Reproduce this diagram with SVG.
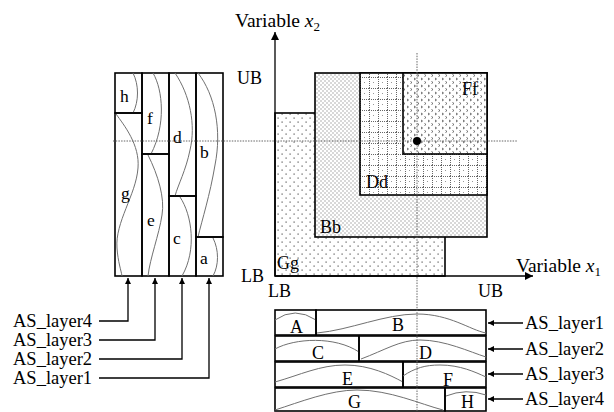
<svg xmlns="http://www.w3.org/2000/svg" width="614" height="412" viewBox="0 0 614 412">
<style>
text{font-family:"Liberation Serif","Times New Roman",serif;font-size:18px;fill:#000}
.lbl{font-size:17.5px}
.var{font-size:19.5px}
.lay{font-size:18.5px}
.box{fill:none;stroke:#000;stroke-width:1.6}
.wave{fill:none;stroke:#707070;stroke-width:1}
.guide{fill:none;stroke:#666;stroke-width:1;stroke-dasharray:1.5 1.2}
.conn{fill:none;stroke:#000;stroke-width:1.3}
.it{font-style:italic}
.sub{font-size:13px}
</style>
<defs>
<marker id="ah" viewBox="0 0 10 10" refX="10" refY="5" markerWidth="6" markerHeight="6" markerUnits="userSpaceOnUse" orient="auto">
<path d="M0,0 L10,5 L0,10 z" fill="#000"/>
</marker>
<marker id="ah2" viewBox="0 0 10 10" refX="10" refY="5" markerWidth="8" markerHeight="8" markerUnits="userSpaceOnUse" orient="auto">
<path d="M0,0 L10,5 L0,10 z" fill="#000"/>
</marker>
<pattern id="pG" width="8" height="8" patternUnits="userSpaceOnUse">
<rect width="8" height="8" fill="#fff"/>
<rect x="1.5" y="1.5" width="1.2" height="1.2" fill="#555"/>
<rect x="5.5" y="5.5" width="1.2" height="1.2" fill="#555"/>
</pattern>
<pattern id="pB" width="4" height="4" patternUnits="userSpaceOnUse">
<rect width="4" height="4" fill="#fff"/>
<rect x="0.5" y="0.5" width="1" height="1" fill="#666"/>
<rect x="2.5" y="2.5" width="1" height="1" fill="#666"/>
</pattern>
<pattern id="pD" width="9" height="11" patternUnits="userSpaceOnUse">
<rect width="9" height="11" fill="#fff"/>
<rect x="4" y="5" width="1" height="1" fill="#999"/>
<path d="M0.5,0 V11 M0,0.5 H9" stroke="#666" stroke-width="1" stroke-dasharray="1 1"/>
</pattern>
<pattern id="pF" width="7" height="7" patternUnits="userSpaceOnUse">
<rect width="7" height="7" fill="#fff"/>
<path d="M1,1 L2.5,2 L1,3" stroke="#666" stroke-width="1" fill="none"/>
<path d="M4.5,4.5 L6,5.5 L4.5,6.5" stroke="#666" stroke-width="1" fill="none"/>
</pattern>
</defs>
<rect width="614" height="412" fill="#fff"/>

<!-- Left panel: layers as columns -->
<g id="left-panel">
<g id="cell-h"><rect class="box" x="115" y="73" width="27" height="40"/><path class="wave" d="M133,73 C139,85 139,101 133,113"/><text class="lbl" x="120" y="102">h</text></g>
<g id="cell-g"><rect class="box" x="115" y="113" width="27" height="163"/><path class="wave" d="M116,114 C124,125 140,145 138,168 C136,195 115,222 117,248 C118,262 121,270 122,276"/><text class="lbl" x="121" y="199">g</text></g>
<g id="cell-f"><rect class="box" x="142" y="73" width="27" height="81"/><path class="wave" d="M153,73 C163,90 166,125 151,154"/><text class="lbl" x="147" y="124">f</text></g>
<g id="cell-e"><rect class="box" x="142" y="154" width="27" height="122"/><path class="wave" d="M148,155 C158,175 165,198 162,215 C159,235 150,258 148,276"/><text class="lbl" x="147" y="226">e</text></g>
<g id="cell-d"><rect class="box" x="169" y="73" width="27" height="123"/><path class="wave" d="M175,73 C190,95 196,125 190,150 C186,170 178,185 175,196"/><text class="lbl" x="173" y="143">d</text></g>
<g id="cell-c"><rect class="box" x="169" y="196" width="27" height="80"/><path class="wave" d="M180,197 C192,215 197,250 182,276"/><text class="lbl" x="173" y="244">c</text></g>
<g id="cell-b"><rect class="box" x="196" y="73" width="27" height="164"/><path class="wave" d="M198,73 C215,95 222,130 215,165 C210,195 202,220 198,237"/><text class="lbl" x="200" y="158">b</text></g>
<g id="cell-a"><rect class="box" x="196" y="237" width="27" height="39"/><path class="wave" d="M213,238 C219,250 219,265 213,276"/><text class="lbl" x="200" y="264">a</text></g>
</g>

<!-- Right chart regions -->
<g id="region-Gg"><rect x="275" y="113" width="170" height="163" fill="url(#pG)" stroke="#000" stroke-width="1.6"/><text x="277" y="269">Gg</text></g>
<g id="region-Bb"><rect x="315" y="73" width="172" height="164" fill="url(#pB)" stroke="#000" stroke-width="1.6"/><text x="320" y="233">Bb</text></g>
<g id="region-Dd"><rect x="360" y="73" width="127" height="122" fill="url(#pD)" stroke="#000" stroke-width="1.6"/><text x="366" y="188">Dd</text></g>
<g id="region-Ff"><rect x="403" y="73" width="84" height="81" fill="url(#pF)" stroke="#000" stroke-width="1.6"/><text x="462" y="95">Ff</text></g>

<!-- Bottom panel: layers as rows -->
<g id="bottom-panel">
<g id="cell-A"><rect class="box" x="275" y="310" width="41" height="25"/><path class="wave" d="M275,320 Q295,306 316,320"/><text x="290" y="333">A</text></g>
<g id="cell-B"><rect class="box" x="316" y="310" width="170" height="25"/><path class="wave" d="M317,333 C350,330 385,314 417,314 C450,314 470,330 486,333"/><text x="392" y="331">B</text></g>
<g id="cell-C"><rect class="box" x="275" y="336" width="84" height="25"/><path class="wave" d="M275,349 C295,338 335,336 359,352"/><text x="312" y="359">C</text></g>
<g id="cell-D"><rect class="box" x="359" y="336" width="127" height="25"/><path class="wave" d="M361,359 C385,350 400,340 420,340 C445,340 470,352 486,357"/><text x="419" y="359">D</text></g>
<g id="cell-E"><rect class="box" x="275" y="362" width="128" height="25"/><path class="wave" d="M275,382 C300,375 320,365 345,365 C370,365 390,375 403,382"/><text x="342" y="385">E</text></g>
<g id="cell-F"><rect class="box" x="403" y="362" width="83" height="25"/><path class="wave" d="M403,376 C415,368 425,365 440,365 C460,365 475,372 486,377"/><text x="443" y="386">F</text></g>
<g id="cell-G"><rect class="box" x="275" y="388" width="170" height="23"/><path class="wave" d="M275,410 C300,402 330,390 357,390 C390,390 420,404 443,410"/><text x="348" y="408">G</text></g>
<g id="cell-H"><rect class="box" x="445" y="388" width="41" height="23"/><path class="wave" d="M446,396 Q466,388 486,395"/><text x="461" y="408">H</text></g>
</g>

<!-- Guide lines and point -->
<g id="guides">
<line class="guide" x1="113" y1="141" x2="518" y2="141"/>
<line class="guide" x1="417" y1="53" x2="417" y2="412"/>
<circle cx="417" cy="141" r="4" fill="#000"/>
</g>

<!-- Axes -->
<g id="axes">
<line class="conn" x1="275" y1="276" x2="275" y2="32" marker-end="url(#ah2)"/>
<line class="conn" x1="275" y1="276" x2="533" y2="276" marker-end="url(#ah2)"/>
<text class="var" x="235" y="27">Variable <tspan class="it">x</tspan><tspan class="sub" dy="4">2</tspan></text>
<text class="var" x="516" y="272">Variable <tspan class="it">x</tspan><tspan class="sub" dy="4">1</tspan></text>
<text x="237" y="84">UB</text>
<text x="241" y="282">LB</text>
<text x="268" y="297">LB</text>
<text x="478" y="297">UB</text>
</g>

<!-- Connectors -->
<g id="connectors">
<polyline class="conn" points="99,321 128,321 128,278" marker-end="url(#ah)"/>
<polyline class="conn" points="99,340 155,340 155,278" marker-end="url(#ah)"/>
<polyline class="conn" points="99,359 182,359 182,278" marker-end="url(#ah)"/>
<polyline class="conn" points="99,378 209,378 209,278" marker-end="url(#ah)"/>
<line class="conn" x1="523" y1="323" x2="488" y2="323" marker-end="url(#ah)"/>
<line class="conn" x1="523" y1="349" x2="488" y2="349" marker-end="url(#ah)"/>
<line class="conn" x1="523" y1="374" x2="488" y2="374" marker-end="url(#ah)"/>
<line class="conn" x1="523" y1="399" x2="488" y2="399" marker-end="url(#ah)"/>
</g>

<!-- Layer labels -->
<g id="layer-labels">
<text class="lay" x="13" y="327">AS_layer4</text>
<text class="lay" x="13" y="346">AS_layer3</text>
<text class="lay" x="13" y="365">AS_layer2</text>
<text class="lay" x="13" y="384">AS_layer1</text>
<text class="lay" x="525" y="329">AS_layer1</text>
<text class="lay" x="525" y="355">AS_layer2</text>
<text class="lay" x="525" y="380">AS_layer3</text>
<text class="lay" x="525" y="405">AS_layer4</text>
</g>
</svg>
